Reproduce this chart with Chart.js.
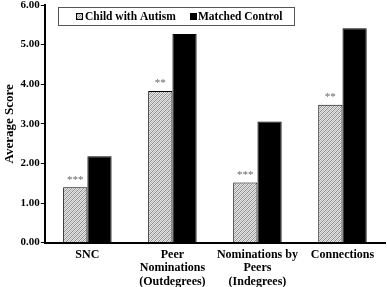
<!DOCTYPE html>
<html>
<head>
<meta charset="utf-8">
<script src="https://cdn.jsdelivr.net/npm/chart.js@4/dist/chart.umd.min.js"></script>
<style>
  body { margin: 0; background: #fff; }
  #wrap { width: 387px; height: 287px; }
</style>
</head>
<body>
<div id="wrap"><canvas id="scoreChart" width="387" height="287"></canvas></div>
<script>
const categories = ["SNC", ["Peer", "Nominations", "(Outdegrees)"], ["Nominations by", "Peers", "(Indegrees)"], "Connections"];
const autismScores = [1.40, 3.83, 1.52, 3.48];
const controlScores = [2.18, 5.27, 3.06, 5.41];
const significance = ["***", "**", "***", "**"];
const seriesNames = ["Child with Autism", "Matched Control"];

// --- fine hatch pattern for the autism bars ---
function makeHatch() {
    const c = document.createElement("canvas");
    c.width = 4; c.height = 4;
    const g = c.getContext("2d");
    g.fillStyle = "#e6e6e6";
    g.fillRect(0, 0, 4, 4);
    g.fillStyle = "#8a8a8a";
    for (let i = 0; i < 4; i++) {
        g.fillRect(3 - i, i, 1, 1);
    }
    g.fillStyle = "#b8b8b8";
    for (let i = 0; i < 4; i++) {
        g.fillRect((5 - i) % 4, i, 1, 1);
    }
    return g.createPattern(c, "repeat");
}
const hatch = makeHatch();

// --- stars above the autism bars ---
const starsPlugin = {
    id: "stars",
    afterDatasetsDraw(chart) {
        const ctx = chart.ctx;
        const meta = chart.getDatasetMeta(0);
        ctx.save();
        ctx.fillStyle = "#666";
        ctx.font = "11px 'Liberation Serif'";
        ctx.textAlign = "center";
        ctx.textBaseline = "bottom";
        meta.data.forEach((bar, i) => {
            ctx.fillText(significance[i], bar.x, bar.y - 2);
        });
        ctx.restore();
    }
};

// --- boxed legend inside the plot ---
const boxLegend = {
    id: "boxLegend",
    afterDraw(chart) {
        const ctx = chart.ctx;
        const x = 58, y = 7, w = 236, h = 18;
        ctx.save();
        ctx.fillStyle = "#fff";
        ctx.fillRect(x, y, w, h);
        ctx.strokeStyle = "#555";
        ctx.lineWidth = 1;
        ctx.strokeRect(x + 0.5, y + 0.5, w, h);
        ctx.font = "bold 11.5px 'Liberation Serif'";
        ctx.textBaseline = "middle";
        const items = [
            { fill: hatch, sx: 76, tx: 85 },
            { fill: "#000", sx: 190, tx: 198 }
        ];
        items.forEach((it, i) => {
            ctx.fillStyle = it.fill;
            ctx.fillRect(it.sx, y + 6, 7, 7);
            ctx.strokeStyle = "#000";
            ctx.strokeRect(it.sx + 0.5, y + 6.5, 6, 6);
            ctx.fillStyle = "#000";
            ctx.fillText(seriesNames[i], it.tx, y + h / 2 + 1);
        });
        ctx.restore();
    }
};

const chart = new Chart(document.getElementById("scoreChart"), {
    type: "bar",
    data: {
        labels: categories,
        datasets: [
            {
                label: seriesNames[0],
                data: autismScores,
                backgroundColor: hatch,
                borderColor: "#000",
                borderWidth: 1,
                barPercentage: 1,
                categoryPercentage: 0.57
            },
            {
                label: seriesNames[1],
                data: controlScores,
                backgroundColor: "#000",
                borderColor: "#000",
                borderWidth: 1,
                barPercentage: 1,
                categoryPercentage: 0.57
            }
        ]
    },
    options: {
        responsive: false,
        animation: false,
        layout: { padding: { top: 5, right: 2, left: 2, bottom: -7 } },
        plugins: {
            legend: { display: false },
            tooltip: { enabled: false }
        },
        scales: {
            x: {
                grid: { display: false, drawTicks: false },
                border: { display: true, color: "#000", width: 2 },
                ticks: {
                    color: "#000",
                    maxRotation: 0,
                    autoSkip: false,
                    padding: 5,
                    font: { family: "'Liberation Serif'", size: 12, weight: "bold", lineHeight: 1.15 }
                }
            },
            y: {
                min: 0,
                max: 6,
                ticks: {
                    stepSize: 1,
                    color: "#000",
                    padding: 1,
                    font: { family: "'Liberation Serif'", size: 11, weight: "bold", lineHeight: 0.5 },
                    callback: v => v.toFixed(2)
                },
                grid: { drawOnChartArea: false, drawTicks: true, tickLength: 4, color: "#000" },
                border: { display: true, color: "#000", width: 2 },
                title: {
                    display: true,
                    text: "Average Score",
                    color: "#000",
                    padding: { top: 0, bottom: 2 },
                    font: { family: "'Liberation Serif'", size: 13, weight: "bold" }
                }
            }
        }
    },
    plugins: [starsPlugin, boxLegend]
});
</script>
</body>
</html>
